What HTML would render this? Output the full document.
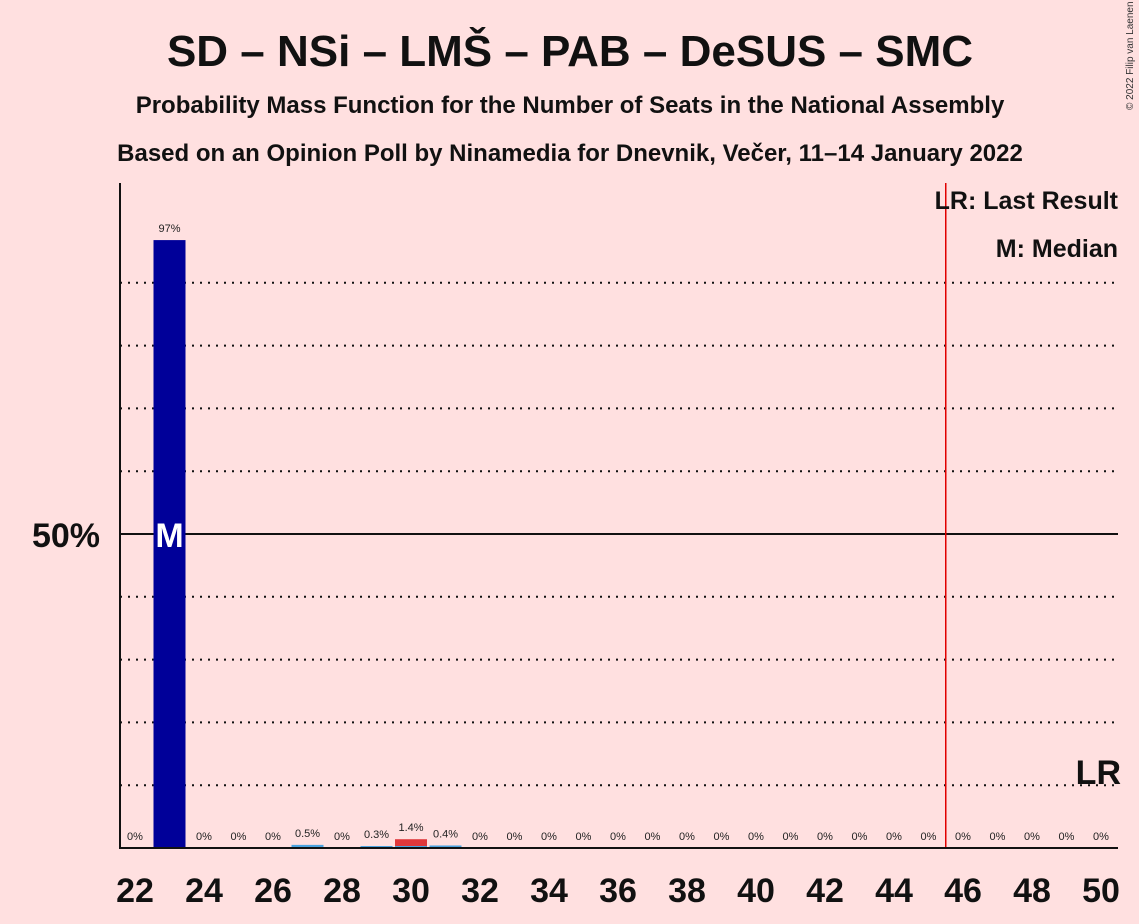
<!DOCTYPE html>
<html><head><meta charset="utf-8"><style>
body{margin:0;background:#ffe0e0;font-family:"Liberation Sans",sans-serif;}
svg{display:block}
</style></head><body>
<svg id="chart" width="1139" height="924" xmlns="http://www.w3.org/2000/svg">
<rect width="1139" height="924" fill="#ffe0e0"/>
<text x="570" y="66" text-anchor="middle" font-size="44" font-weight="bold" fill="#111">SD – NSi – LMŠ – PAB – DeSUS – SMC</text>
<text x="570" y="113" text-anchor="middle" font-size="24" font-weight="bold" fill="#111">Probability Mass Function for the Number of Seats in the National Assembly</text>
<text x="570" y="161" text-anchor="middle" font-size="24" font-weight="bold" fill="#111">Based on an Opinion Poll by Ninamedia for Dnevnik, Večer, 11–14 January 2022</text>
<text x="1133" y="110" font-size="10" fill="#333" transform="rotate(-90 1133 110)">© 2022 Filip van Laenen</text>
<g id="grid"></g>
<g id="bars"></g>
<g id="labels"></g>
<line x1="120" y1="183" x2="120" y2="848" stroke="#111" stroke-width="2"/>
<line x1="119" y1="848" x2="1118" y2="848" stroke="#111" stroke-width="2"/>
<text x="100" y="547" text-anchor="end" font-size="34" font-weight="bold" fill="#111">50%</text>
<text x="1118" y="209" text-anchor="end" font-size="25" font-weight="bold" fill="#111">LR: Last Result</text>
<text x="1118" y="257" text-anchor="end" font-size="25" font-weight="bold" fill="#111">M: Median</text>
</svg>
<script>
const seats=[22,23,24,25,26,27,28,29,30,31,32,33,34,35,36,37,38,39,40,41,42,43,44,45,46,47,48,49,50];
const probs=[0,96.8,0,0,0,0.5,0,0.3,1.4,0.4,0,0,0,0,0,0,0,0,0,0,0,0,0,0,0,0,0,0,0];
const valueLabels=["0%","97%","0%","0%","0%","0.5%","0%","0.3%","1.4%","0.4%","0%","0%","0%","0%","0%","0%","0%","0%","0%","0%","0%","0%","0%","0%","0%","0%","0%","0%","0%"];
const tickSeats=[22,24,26,28,30,32,34,36,38,40,42,44,46,48,50];
const gridValues=[10,20,30,40,60,70,80,90];
const medianSeat=23;
const lastResult=45.5;
const lrLabelSeat=50;
const NS="http://www.w3.org/2000/svg";
const xs=s=>135+(s-22)*34.5;
const ys=v=>848-v*6.28;
const svg=document.getElementById('chart');
const g=document.getElementById('grid'),b=document.getElementById('bars'),l=document.getElementById('labels');
function mk(tag,attrs,parent){const e=document.createElementNS(NS,tag);for(const k in attrs)e.setAttribute(k,attrs[k]);parent.appendChild(e);return e;}
gridValues.forEach(v=>{
 const e=mk('line',{x1:120,x2:1118,y1:ys(v),y2:ys(v),stroke:'#111','stroke-width':2,'stroke-dasharray':'2,6'},g);
 
 
});
const m=mk('line',{x1:120,x2:1118,y1:ys(50),y2:ys(50),stroke:'#111','stroke-width':2},g);


seats.forEach((s,i)=>{
 const v=probs[i];
 let col='#000099';
 if(s===30)col='#e0383b';else if(s!==medianSeat)col='#4aa3df';
 if(v>0){
  const h=Math.max(848-ys(v),2);
  const r=mk('rect',{x:xs(s)-16,y:848-h,width:32,height:h,fill:col},b);
  
  
  if(s===30){const r2=mk('rect',{x:xs(s)-16,y:846,width:32,height:2,fill:'#4aa3df'},b);}
 }
 const t=mk('text',{x:xs(s),y:ys(v)-8,'text-anchor':'middle','font-size':11,fill:'#222'},l);
 t.textContent=valueLabels[i];
 
 
});
tickSeats.forEach(s=>{
 const t=mk('text',{x:xs(s),y:902,'text-anchor':'middle','font-size':34,'font-weight':'bold',fill:'#111'},l);
 t.textContent=s;
 
 
});
const mt=mk('text',{x:xs(medianSeat),y:ys(50)+13,'text-anchor':'middle','font-size':34,'font-weight':'bold',fill:'#fff'},l);
mt.textContent='M';


const lr=mk('line',{x1:xs(lastResult),x2:xs(lastResult),y1:183,y2:848,stroke:'#e00000','stroke-width':1.5},l);


const lt=mk('text',{x:1121,y:784,'text-anchor':'end','font-size':34,'font-weight':'bold',fill:'#111'},l);
lt.textContent='LR';


</script>
</body></html>
